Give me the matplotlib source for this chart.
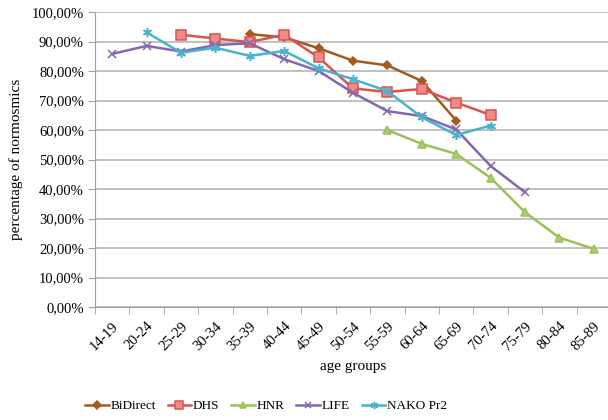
import numpy as np
import matplotlib.pyplot as plt
from matplotlib.ticker import FuncFormatter

plt.rcParams['font.family'] = ['Liberation Serif', 'DejaVu Serif']

age_groups = ["14-19", "20-24", "25-29", "30-34", "35-39", "40-44", "45-49", "50-54",
              "55-59", "60-64", "65-69", "70-74", "75-79", "80-84", "85-89"]

# values in percent, None where a study has no data
bidirect = [None, None, None, None, 92.5, 91.4, 87.7, 83.5, 81.9, 76.6, 63.2, None, None, None, None]
dhs = [None, None, 92.3, 91.0, 89.8, 92.3, 84.6, 74.1, 72.9, 73.9, 69.3, 65.1, None, None, None]
hnr = [None, None, None, None, None, None, None, None, 60.0, 55.3, 51.9, 43.8, 32.1, 23.5, 19.7]
life = [85.8, 88.5, 86.6, 88.8, 89.4, 84.0, 80.0, 72.6, 66.4, 64.7, 60.2, 47.8, 38.9, None, None]
nako = [None, 93.1, 86.2, 87.9, 85.1, 86.8, 80.9, 77.2, 73.2, 64.3, 58.3, 61.5, None, None, None]

series = [
    ("BiDirect", bidirect, "#A35A1E", "D", "#A35A1E", "#A35A1E", 4.5),
    ("DHS", dhs, "#D9534F", "s", "#F08A86", "#D9534F", 6.5),
    ("HNR", hnr, "#9BC25A", "^", "#A8D06A", "#9BC25A", 5.5),
    ("LIFE", life, "#8467AE", "x", "#8467AE", "#8467AE", 5.5),
    ("NAKO Pr2", nako, "#48B3CC", (6, 2, 0), "#48B3CC", "#48B3CC", 6.5),
]

fig = plt.figure(figsize=(6.08, 4.2), dpi=100)
ax = fig.add_axes([95 / 608, 113 / 420, 516 / 608, 295 / 420])

x = np.arange(len(age_groups))
for name, vals, col, mk, mfc, mec, ms in series:
    y = np.array([np.nan if v is None else v / 100 for v in vals])
    ax.plot(x, y, color=col, lw=1.8, marker=mk, markersize=ms,
            markerfacecolor=mfc, markeredgecolor=mec, markeredgewidth=1.1,
            label=name, clip_on=False, zorder=3)

ax.set_xlim(-0.5, len(age_groups) - 0.5)
ax.set_ylim(0, 1.0)
ax.set_yticks(np.arange(0, 1.01, 0.1))
ax.yaxis.set_major_formatter(FuncFormatter(lambda v, p: ("%.2f%%" % (v * 100)).replace(".", ",")))
ax.yaxis.grid(True, color="#b0b0b0", lw=1.1)
ax.set_axisbelow(True)

ax.set_xticks(x)
ax.set_xticklabels(age_groups, rotation=45, ha="right", rotation_mode="anchor", fontsize=10.5)
ax.set_xticks(np.arange(-0.5, len(age_groups)), minor=True)
ax.tick_params(axis="x", which="major", length=0, pad=9)
ax.tick_params(axis="x", which="minor", length=5, color="#a0a0a0")
ax.tick_params(axis="y", length=5, color="#a0a0a0", labelsize=10.5, pad=3)

for s in ["top", "right"]:
    ax.spines[s].set_visible(False)
for s in ["left", "bottom"]:
    ax.spines[s].set_color("#a0a0a0")

ax.set_xlabel("age groups", fontsize=11, labelpad=5)
ax.set_ylabel("percentage of normosmics", fontsize=11, labelpad=6)

fig.legend(loc="lower center", bbox_to_anchor=(0.4375, -0.01), ncol=5, frameon=False,
           fontsize=9.5, handlelength=1.8, columnspacing=0.9, handletextpad=0.12,
           markerscale=0.8)

fig.savefig("out.png", dpi=100)
